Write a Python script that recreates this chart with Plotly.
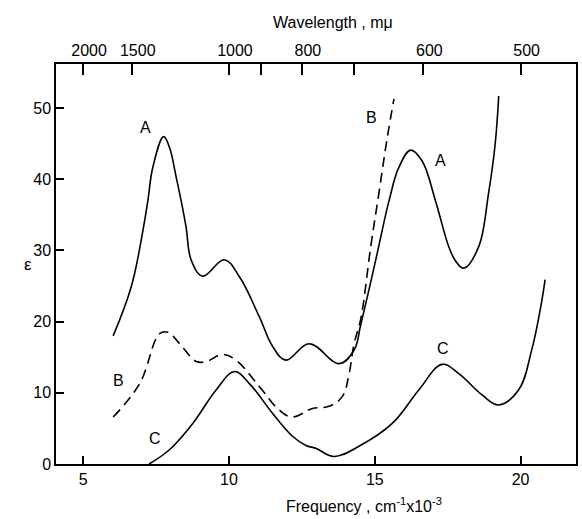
import plotly.graph_objects as go

# Absorption curves: frequency (cm^-1 x 10^-3) vs molar absorptivity
freq_a = [6.03, 6.65, 7.05, 7.22, 7.39, 7.76, 7.96, 8.19, 8.36, 8.53, 8.71, 9.10, 9.84,
          10.36, 11.04, 11.5, 11.95, 12.75, 13.78, 14.29, 14.52, 15.03, 15.49, 15.83,
          16.23, 16.62, 17.08, 17.54, 17.76, 18.05, 18.56, 18.9, 19.13, 19.25]
eps_a = [18.0, 24.9, 32.8, 37.0, 41.7, 46.0, 44.5, 40.3, 37.0, 33.3, 28.6, 26.4, 28.7,
         26.3, 20.7, 16.5, 14.6, 16.9, 14.1, 16.0, 19.6, 28.6, 37.0, 41.7,
         44.1, 42.6, 37.0, 30.5, 28.6, 27.5, 30.5, 38.0, 45.0, 51.7]

freq_b = [6.03, 6.94, 7.62, 7.91, 8.31, 8.88, 9.22, 9.79, 10.24, 11.04, 11.72, 12.18,
          12.86, 13.43, 13.89, 14.12, 14.29, 14.52, 14.86, 15.14, 15.43, 15.66]
eps_b = [6.6, 11.3, 18.3, 18.5, 16.9, 14.4, 14.4, 15.4, 14.6, 10.9, 7.6, 6.6,
         7.8, 8.1, 9.5, 12.7, 16.9, 20.4, 30.5, 38.0, 45.9, 51.3]

freq_c = [7.26, 7.96, 8.76, 9.56, 10.19, 10.70, 11.5, 12.18, 12.64, 12.98, 13.6, 14.46,
          15.6, 16.51, 17.31, 17.88, 18.68, 19.25, 19.93, 20.38, 20.73, 20.84]
eps_c = [0.0, 2.0, 5.7, 10.4, 13.0, 11.3, 7.1, 3.9, 2.6, 2.2, 1.06, 2.5,
         5.7, 10.4, 14.0, 12.7, 9.7, 8.3, 10.4, 16.0, 23.0, 25.9]

# Curve labels
label_text = ["A", "A", "B", "B", "C", "C"]
label_freq = [7.14, 17.25, 14.89, 6.23, 7.45, 17.33]
label_eps = [47.3, 42.6, 48.7, 11.7, 3.6, 16.2]

# Axis ticks
freq_ticks = [5, 10, 15, 20]
eps_ticks = [0, 10, 20, 30, 40, 50]
wavelength_labelled = [2000, 1500, 1000, 800, 600, 500]
wavelength_minor = [900, 700]

x_range = [4.07, 21.9]
y_range = [0, 56.2]

line_style = dict(color="black", width=1.6, shape="spline", smoothing=1.1)

fig = go.Figure()
fig.add_trace(go.Scatter(x=freq_a, y=eps_a, mode="lines", line=line_style))
fig.add_trace(go.Scatter(x=freq_b, y=eps_b, mode="lines",
                         line=dict(line_style, dash="10px,6px")))
fig.add_trace(go.Scatter(x=freq_c, y=eps_c, mode="lines", line=line_style))
# Carrier trace for the wavelength axis on top
fig.add_trace(go.Scatter(x=[10000 / w for w in wavelength_labelled],
                         y=[None] * len(wavelength_labelled),
                         xaxis="x2", mode="lines", hoverinfo="skip"))

for t, fx, fy in zip(label_text, label_freq, label_eps):
    fig.add_annotation(x=fx, y=fy, text=t, showarrow=False,
                       font=dict(size=16, color="black"))

# Axis titles
fig.add_annotation(xref="paper", yref="paper", x=0.592, y=-0.072, yanchor="top",
                   text="Frequency , cm<sup>-1</sup>x10<sup>-3</sup>", showarrow=False,
                   font=dict(size=16, color="black"))
fig.add_annotation(xref="paper", yref="paper", x=0.533, y=1.0, yshift=42,
                   yanchor="middle", text="Wavelength , mμ", showarrow=False,
                   font=dict(size=16, color="black"))
fig.add_annotation(xref="paper", yref="paper", x=0, xshift=-34, y=0.5,
                   text="ε", showarrow=False, font=dict(size=17, color="black"))

font = dict(family="Liberation Sans, Arial, sans-serif", size=16, color="black")

axis_common = dict(ticks="inside", tickcolor="black", tickwidth=1.5,
                   showgrid=False, zeroline=False)

fig.update_layout(
    width=582, height=519,
    margin=dict(l=56, r=4, t=64, b=55),
    paper_bgcolor="white", plot_bgcolor="white",
    showlegend=False,
    font=font,
    xaxis=dict(range=x_range, tickvals=freq_ticks, ticklen=8, showline=True,
               linecolor="black", linewidth=1.5, mirror=True, **axis_common),
    xaxis2=dict(range=x_range, overlaying="x", side="top",
                tickvals=[10000 / w for w in wavelength_labelled],
                ticktext=[str(w) for w in wavelength_labelled], ticklen=11,
                ticklabelshift=6, showline=True, linecolor="black", linewidth=1.5,
                minor=dict(tickmode="array",
                           tickvals=[10000 / w for w in wavelength_minor],
                           ticks="inside", ticklen=11, tickcolor="black",
                           tickwidth=1.5, showgrid=False),
                **axis_common),
    yaxis=dict(range=y_range, tickvals=eps_ticks, ticklen=8, showline=True,
               linecolor="black", linewidth=1.5, mirror=True, **axis_common),
)

fig.write_html("out.html")
